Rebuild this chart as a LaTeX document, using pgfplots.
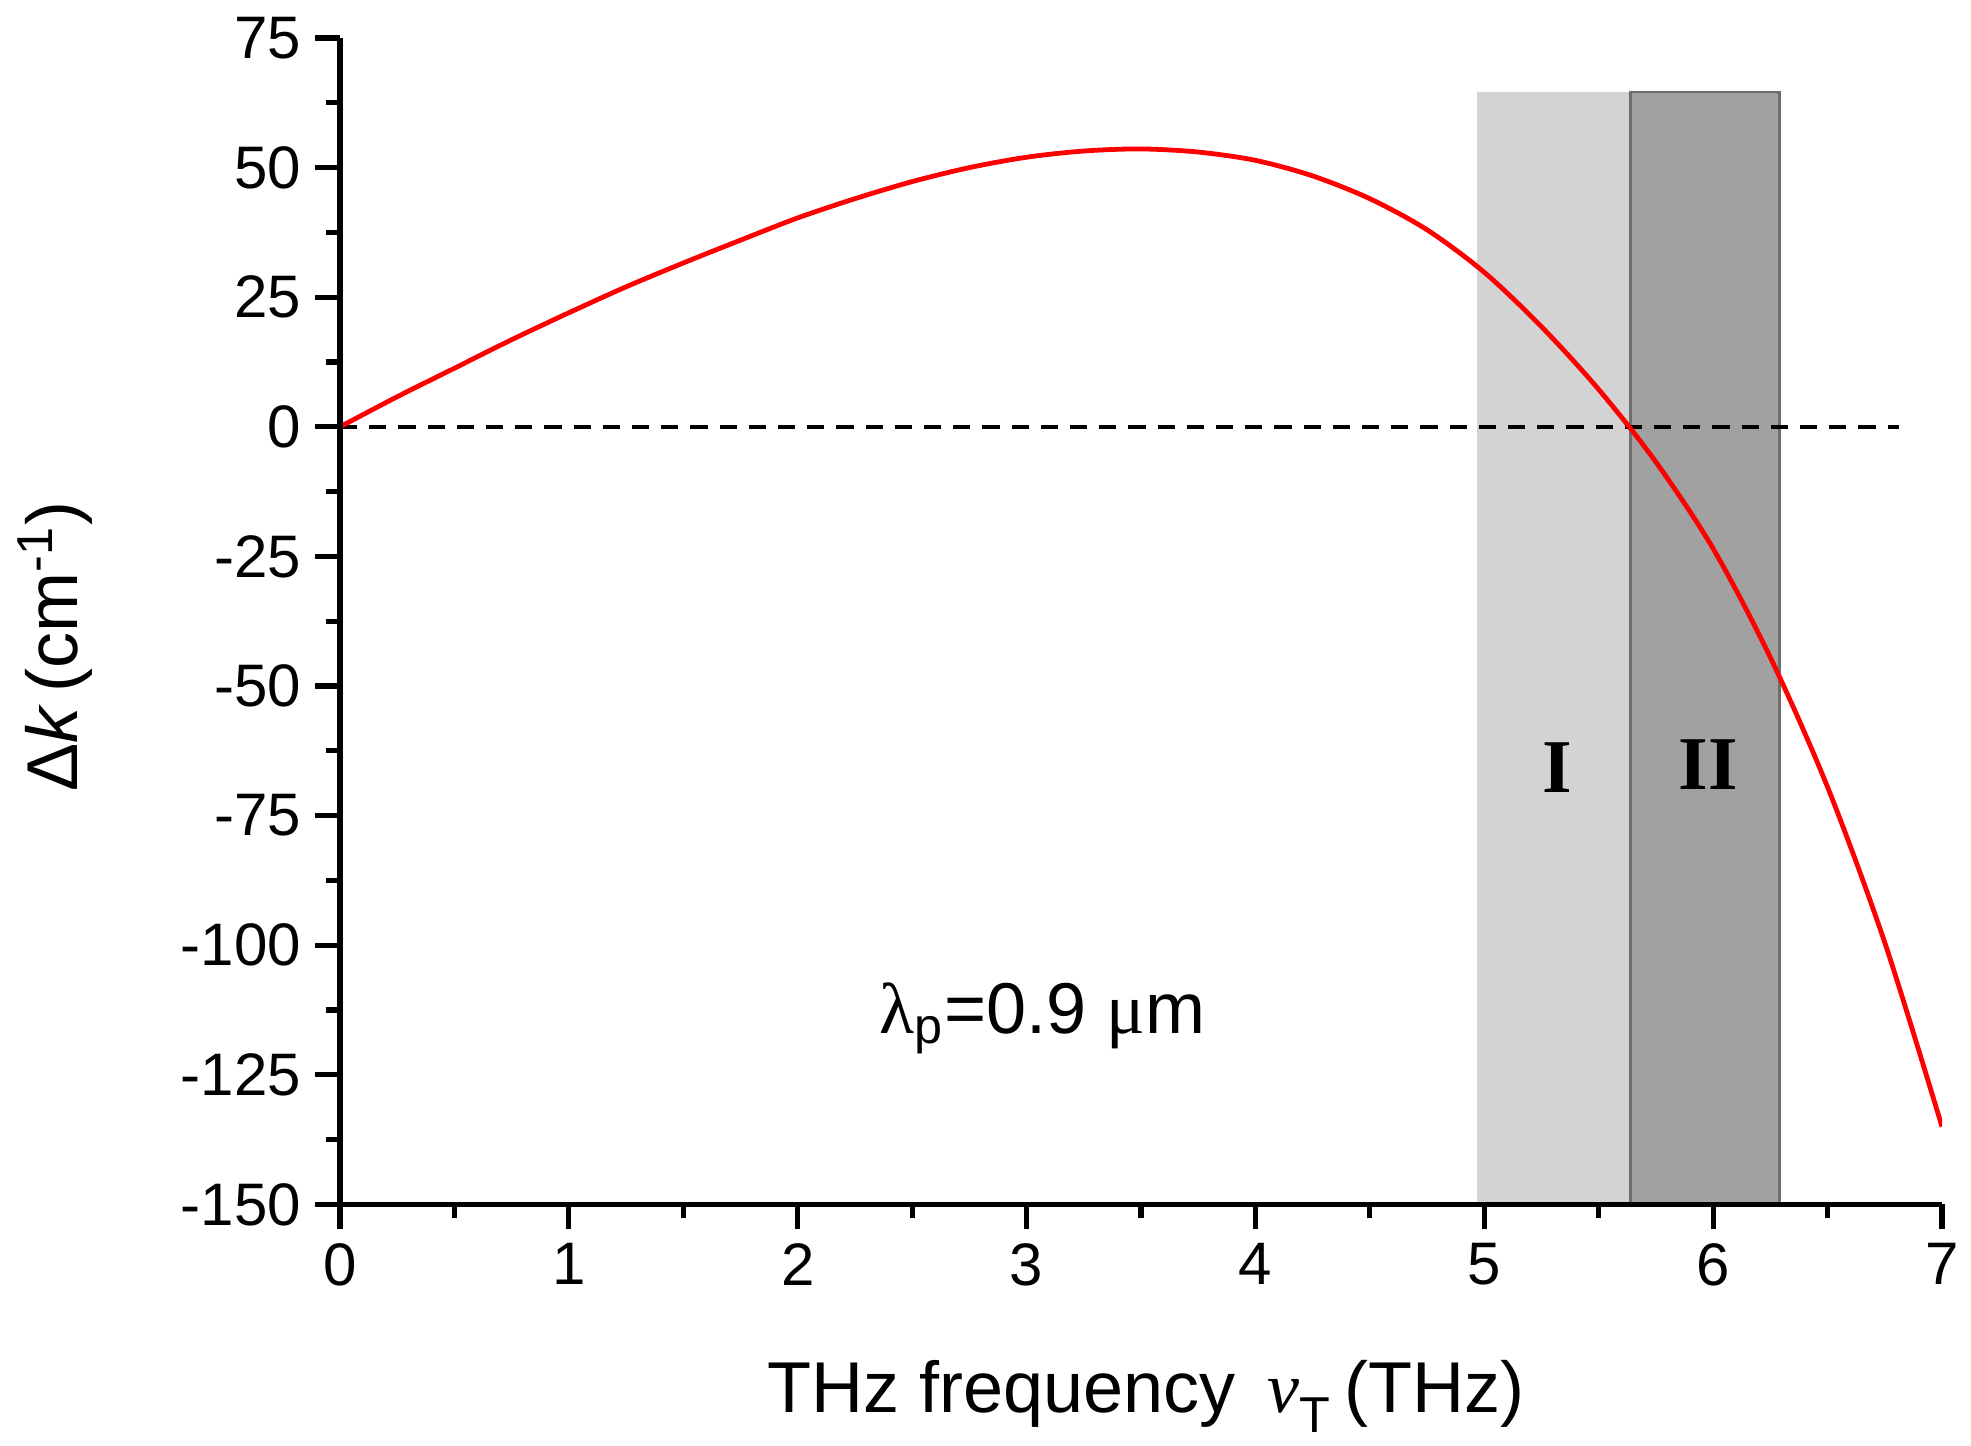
\documentclass[border=0pt]{standalone}
\usepackage{fontspec}
\setmainfont{Liberation Sans}
\newfontfamily\timesfont{Liberation Serif}
\usepackage{pgfplots}
\pgfplotsset{compat=1.18}
\definecolor{shadeI}{HTML}{D3D3D3}
\definecolor{shadeII}{HTML}{A1A1A1}
\definecolor{shadeEdge}{HTML}{6E6E6E}
\definecolor{curvered}{HTML}{FF0000}
\begin{document}
\begin{tikzpicture}
\begin{axis}[
  scale only axis,
  width=400.5pt, height=291.6pt,
  xmin=0, xmax=7, ymin=-150, ymax=75,
  enlargelimits=false,
  axis x line=bottom, axis y line=left,
  axis line style={-, line width=1.35pt},
  xtick={0,1,...,7},
  ytick={-150,-125,...,75},
  minor x tick num=1, minor y tick num=1,
  tick align=outside,
  major tick length=6.25pt, minor tick length=3.5pt,
  every tick/.style={black, line width=1.3pt},
  tick label style={font=\fontsize{15}{18}\selectfont},
  /pgf/number format/assume math mode=true,
  axis on top,
  xlabel={THz frequency \,{\timesfont\itshape ν}\raisebox{-0.25ex}{\textsubscript{T}}\,(THz)},
  ylabel={Δ\textit{k}\,(cm\textsuperscript{-1})},
  label style={font=\fontsize{18}{21}\selectfont},
  xlabel style={at={(axis description cs:0.503,-0.178)}, anchor=base},
  ylabel style={at={(axis description cs:-0.1636,0.478)}, anchor=base},
]
% shaded regions
\addplot[draw=none, fill=shadeI] coordinates {(4.97,-150) (4.97,64.5) (5.64,64.5) (5.64,-150)} -- cycle;
\addplot[draw=shadeEdge, line width=0.8pt, fill=shadeII] coordinates {(5.64,-150) (5.64,64.5) (6.29,64.5) (6.29,-150)};
\addplot[draw=none, fill=shadeII] coordinates {(5.645,-149) (5.645,64.3) (6.28,64.3) (6.28,-149)} -- cycle;
% zero line
\addplot[black, line width=0.9pt, dash pattern=on 4.3pt off 3pt] coordinates {(0,0) (6.81,0)};
% curve
\addplot[curvered, line width=1.2pt, smooth] coordinates {
(0,0) (0.25,5.8) (0.5,11.3) (0.75,16.8) (1.0,22.0) (1.25,27.0) (1.5,31.6)
(1.75,36.0) (2.0,40.3) (2.25,44.0) (2.5,47.3) (2.75,50.0) (3.0,52.0)
(3.25,53.2) (3.5,53.6) (3.75,53.0) (4.0,51.4) (4.25,48.4) (4.5,44.0)
(4.75,38.0) (5.0,29.8) (5.25,19.3) (5.5,7.2) (5.75,-6.8)
(6.0,-23.5) (6.25,-44.5) (6.5,-69.5) (6.75,-99.5) (7.0,-135)};
\node[anchor=base, font=\fontsize{18}{21}\selectfont] at (axis cs:3.07,-117) {{\timesfont λ}\textsubscript{p}=0.9 {\timesfont μ}m};
\node[font=\fontsize{19}{22}\selectfont\timesfont\bfseries] at (axis cs:5.32,-65.7) {I};
\node[font=\fontsize{19}{22}\selectfont\timesfont\bfseries] at (axis cs:5.98,-65.2) {II};
\end{axis}
\pgfresetboundingbox
\path ([shift={(-85pt,-60.25pt)}]current axis.south west) rectangle ([shift={(7.25pt,9.5pt)}]current axis.north east);
\end{tikzpicture}
\end{document}
